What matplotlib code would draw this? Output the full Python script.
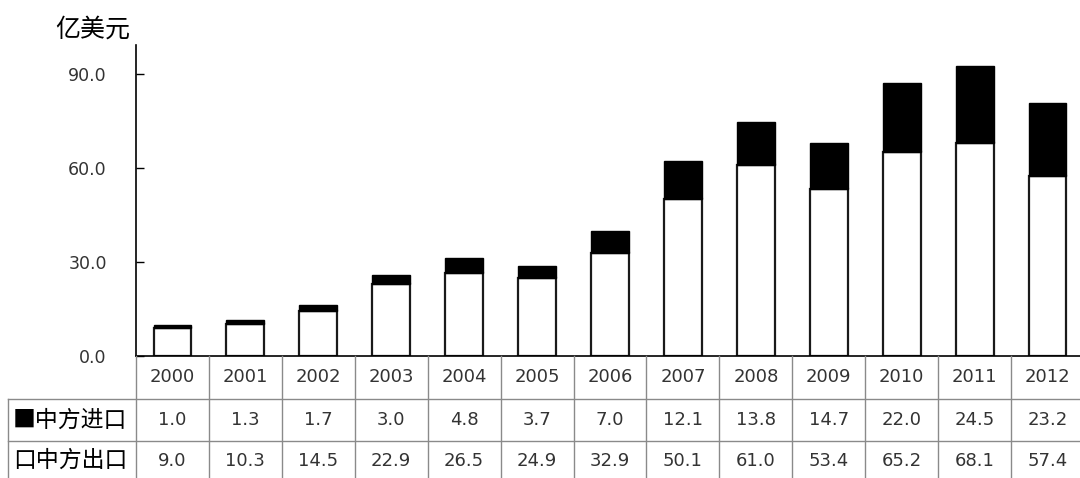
import numpy as np
import matplotlib
matplotlib.use("Agg")
import matplotlib.pyplot as plt

# data (亿美元)
years = ["2000", "2001", "2002", "2003", "2004", "2005", "2006",
         "2007", "2008", "2009", "2010", "2011", "2012"]
imports = [1.0, 1.3, 1.7, 3.0, 4.8, 3.7, 7.0, 12.1, 13.8, 14.7, 22.0, 24.5, 23.2]
exports = [9.0, 10.3, 14.5, 22.9, 26.5, 24.9, 32.9, 50.1, 61.0, 53.4, 65.2, 68.1, 57.4]
row_labels = ["■中方进口", "口中方出口"]
yticks = [0, 30, 60, 90]

W, H = 1080, 478
fig = plt.figure(figsize=(W / 100, H / 100), dpi=100)

cjk = ["Noto Sans CJK SC", "DejaVu Sans"]
num_color = "#333333"
grid_color = "#8a8a8a"

# plot area in pixels
px_left, px_right = 136, 1084
px_top, px_zero = 45, 356
ax = fig.add_axes([px_left / W, (H - px_zero) / H,
                   (px_right - px_left) / W, (px_zero - px_top) / H])

x = np.arange(len(years))
bw = 0.52
ax.bar(x, exports, width=bw, color="white", edgecolor="#1a1a1a", linewidth=1.6, zorder=2)
ax.bar(x, imports, width=bw, bottom=exports, color="black", edgecolor="black",
       linewidth=1.0, zorder=2)

ax.set_xlim(-0.5, len(years) - 0.5)
ax.set_ylim(0, 90 * (px_zero - px_top) / (px_zero - 74))
ax.set_yticks(yticks)
ax.set_yticklabels([f"{v:.1f}" for v in yticks], fontsize=12.5, color=num_color,
                   family="DejaVu Sans")
ax.tick_params(axis="y", direction="in", length=6, width=1.0, pad=21)
ax.set_xticks([])
for s in ["top", "right"]:
    ax.spines[s].set_visible(False)
ax.spines["left"].set_linewidth(1.2)
ax.spines["bottom"].set_linewidth(1.2)

fig.text(55 / W, (H - 30) / H, "亿美元", family=cjk, fontsize=18,
         ha="left", va="center", color="black")

# data table under the axis, drawn in figure pixels
cw = (px_right - px_left) / len(years)
rows_y = [356, 399, 441, 484]
tab_left = 8

def fx(p):
    return p / W

def fy(p):
    return (H - p) / H

lines = []
# horizontal lines
lines.append(([tab_left, px_right], [rows_y[1], rows_y[1]]))
lines.append(([tab_left, px_right], [rows_y[2], rows_y[2]]))
# vertical lines
lines.append(([tab_left, tab_left], [rows_y[1], rows_y[3]]))
for i in range(len(years) + 1):
    xp = px_left + i * cw
    lines.append(([xp, xp], [rows_y[0], rows_y[3]]))
for lx, ly in lines:
    fig.add_artist(plt.Line2D([fx(v) for v in lx], [fy(v) for v in ly],
                              color=grid_color, linewidth=1.0))

for i, yr in enumerate(years):
    cx = px_left + (i + 0.5) * cw
    fig.text(fx(cx), fy((rows_y[0] + rows_y[1]) / 2), yr, ha="center", va="center",
             fontsize=13, color=num_color)
    fig.text(fx(cx), fy((rows_y[1] + rows_y[2]) / 2), f"{imports[i]:.1f}",
             ha="center", va="center", fontsize=13, color=num_color)
    fig.text(fx(cx), fy((rows_y[2] + rows_y[3]) / 2 - 2), f"{exports[i]:.1f}",
             ha="center", va="center", fontsize=13, color=num_color)

fig.text(fx(13), fy((rows_y[1] + rows_y[2]) / 2), row_labels[0], family=cjk,
         fontsize=16.5, ha="left", va="center", color="black")
fig.text(fx(13), fy((rows_y[2] + rows_y[3]) / 2 - 2), row_labels[1], family=cjk,
         fontsize=16.5, ha="left", va="center", color="black")

fig.savefig("out.png", dpi=100, facecolor="white")
